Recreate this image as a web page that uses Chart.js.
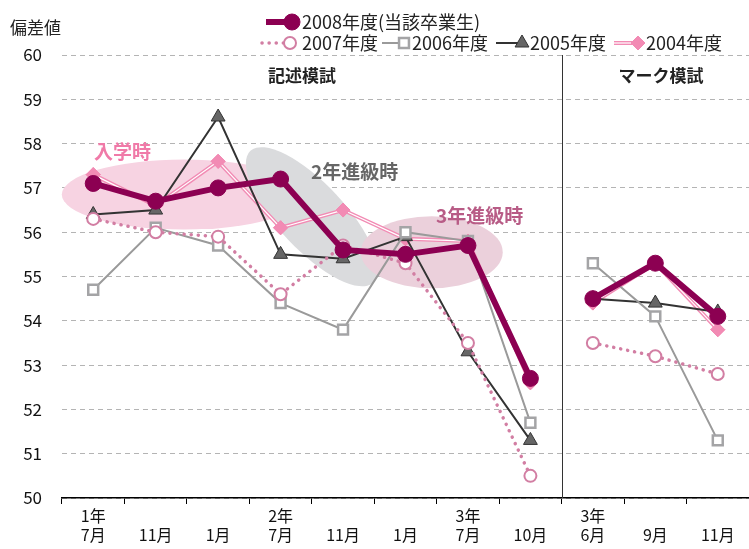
<!DOCTYPE html>
<html>
<head>
<meta charset="utf-8">
<script src="https://cdn.jsdelivr.net/npm/chart.js@4.4.1/dist/chart.umd.min.js"></script>
<style>
  html, body { margin: 0; background: #fff; }
  #wrap { width: 749px; height: 549px; }
</style>
</head>
<body>
<div id="wrap"><canvas id="chart"></canvas></div>
<script>
// x categories (two-line labels: year / month)
const categories = [['1年','7月'],['','11月'],['','1月'],['2年','7月'],['','11月'],['','1月'],['3年','7月'],['','10月'],['3年','6月'],['','9月'],['','11月']];
const seriesNames = ['2008年度(当該卒業生)', '2007年度', '2006年度', '2005年度', '2004年度'];
const y2008 = [57.1, 56.7, 57.0, 57.2, 55.6, 55.5, 55.7, 52.7, 54.5, 55.3, 54.1];
const y2007 = [56.3, 56.0, 55.9, 54.6, 55.7, 55.3, 53.5, 50.5, 53.5, 53.2, 52.8];
const y2006 = [54.7, 56.1, 55.7, 54.4, 53.8, 56.0, 55.8, 51.7, 55.3, 54.1, 51.3];
const y2005 = [56.4, 56.5, 58.6, 55.5, 55.4, 55.9, 53.3, 51.3, 54.5, 54.4, 54.2];
const y2004 = [57.3, 56.6, 57.6, 56.1, 56.5, 55.85, 55.8, 52.6, 54.4, 55.3, 53.8];
const yTicks = [50, 51, 52, 53, 54, 55, 56, 57, 58, 59, 60];
const lastWritten = 7; // last 記述模試 index, lines break after it

const FONT = '"Noto Sans CJK JP", "Noto Sans", sans-serif';

// break the line between the two exam types
const brk = { borderColor: ctx => ctx.p0DataIndex === lastWritten ? 'transparent' : undefined };

// background ellipses (data coords) + labels
const bubbles = [
  { cx: 1.45, cy: 56.85, rx: 122, ry: 35, rot: 0, color: '#f7d3e2' },
  { cx: 3.5, cy: 56.35, rx: 90, ry: 33, rot: 47, color: '#dadbdd' },
  { cx: 5.42, cy: 55.55, rx: 71, ry: 36, rot: 0, color: '#ebd0db' }
];

const decorations = {
  id: 'decorations',
  beforeDatasetsDraw(chart) {
    const { ctx, scales: { x, y } } = chart;
    ctx.save();
    bubbles.forEach(b => {
      ctx.beginPath();
      ctx.fillStyle = b.color;
      ctx.ellipse(x.getPixelForValue(b.cx), y.getPixelForValue(b.cy), b.rx, b.ry, b.rot * Math.PI / 180, 0, Math.PI * 2);
      ctx.fill();
    });
    // separator between 記述模試 and マーク模試
    const sx = (x.getPixelForValue(lastWritten) + x.getPixelForValue(lastWritten + 1)) / 2;
    ctx.strokeStyle = '#333';
    ctx.lineWidth = 1;
    ctx.beginPath();
    ctx.moveTo(Math.round(sx) + 0.5, chart.chartArea.top);
    ctx.lineTo(Math.round(sx) + 0.5, chart.chartArea.bottom);
    ctx.stroke();

    ctx.font = 'bold 19px ' + FONT;
    ctx.textBaseline = 'middle';
    ctx.textAlign = 'left';
    ctx.fillStyle = '#f07aa8';
    ctx.fillText('入学時', 94, 152);
    ctx.fillStyle = '#666';
    ctx.fillText('2年進級時', 311, 172);
    ctx.fillStyle = '#b85c86';
    ctx.fillText('3年進級時', 436, 216);
    ctx.font = 'bold 17px ' + FONT;
    ctx.fillStyle = '#222';
    ctx.textAlign = 'center';
    ctx.fillText('記述模試', 302, 76);
    ctx.fillText('マーク模試', 661, 76);
    ctx.restore();
  },
  afterDatasetDraw(chart, args) {
    // white centre stroke makes the 2004 line look doubled
    if (args.index !== 4) return;
    const { ctx } = chart;
    const pts = args.meta.data;
    ctx.save();
    ctx.strokeStyle = '#fff';
    ctx.lineWidth = 1.2;
    for (let i = 0; i < pts.length - 1; i++) {
      if (i === lastWritten) continue;
      ctx.beginPath();
      ctx.moveTo(pts[i].x, pts[i].y);
      ctx.lineTo(pts[i + 1].x, pts[i + 1].y);
      ctx.stroke();
    }
    // redraw diamonds over the white stroke
    pts.forEach(p => p.draw(ctx, chart.chartArea));
    ctx.restore();
  },
  afterDraw(chart) {
    const { ctx } = chart;
    ctx.save();
    ctx.font = '17px ' + FONT;
    ctx.fillStyle = '#222';
    ctx.textBaseline = 'middle';
    ctx.fillText('偏差値', 10, 28);

    // legend
    ctx.font = '18px ' + FONT;
    const spots = [
      { x0: 266, x1: 292, y: 22, tx: 302 },
      { x0: 262, x1: 290, y: 43, tx: 302 },
      { x0: 382, x1: 404, y: 43, tx: 412 },
      { x0: 496, x1: 522, y: 43, tx: 530 },
      { x0: 614, x1: 638, y: 43, tx: 646 }
    ];
    chart.data.datasets.forEach((ds, i) => {
      const s = spots[i];
      ctx.save();
      ctx.strokeStyle = ds.borderColor;
      ctx.lineWidth = ds.borderWidth;
      ctx.lineCap = ds.borderCapStyle || 'butt';
      ctx.setLineDash(ds.borderDash || []);
      ctx.beginPath();
      ctx.moveTo(s.x0, s.y);
      ctx.lineTo(s.x1, s.y);
      ctx.stroke();
      if (i === 4) {
        ctx.strokeStyle = '#fff';
        ctx.lineWidth = 1.2;
        ctx.beginPath();
        ctx.moveTo(s.x0, s.y);
        ctx.lineTo(s.x1, s.y);
        ctx.stroke();
      }
      ctx.setLineDash([]);
      ctx.fillStyle = ds.pointBackgroundColor;
      ctx.strokeStyle = ds.pointBorderColor;
      ctx.lineWidth = ds.pointBorderWidth;
      Chart.helpers.drawPoint(ctx, { pointStyle: ds.pointStyle, radius: ds.pointRadius, rotation: 0, borderWidth: ds.pointBorderWidth }, s.x1, s.y);
      ctx.restore();
      ctx.fillStyle = '#222';
      ctx.textAlign = 'left';
      ctx.fillText(ds.label, s.tx, s.y);
    });
    ctx.restore();
  }
};

new Chart(document.getElementById('chart'), {
  type: 'line',
  data: {
    labels: categories,
    datasets: [
      { label: seriesNames[0], data: y2008, borderColor: '#8c0052', borderWidth: 6, pointStyle: 'circle', pointRadius: 8,
        pointBackgroundColor: '#8c0052', pointBorderColor: '#8c0052', pointBorderWidth: 1, segment: brk },
      { label: seriesNames[1], data: y2007, borderColor: '#d27ea3', borderWidth: 3.5, borderDash: [0.1, 7], borderCapStyle: 'round',
        pointStyle: 'circle', pointRadius: 6, pointBackgroundColor: '#fff', pointBorderColor: '#d27ea3', pointBorderWidth: 2, segment: brk },
      { label: seriesNames[2], data: y2006, borderColor: '#9a9a9a', borderWidth: 2, pointStyle: 'rect', pointRadius: 7,
        pointBackgroundColor: '#fff', pointBorderColor: '#a4a4a6', pointBorderWidth: 2.5, segment: brk },
      { label: seriesNames[3], data: y2005, borderColor: '#333', borderWidth: 2, pointStyle: 'triangle', pointRadius: 8,
        pointBackgroundColor: '#666', pointBorderColor: '#333', pointBorderWidth: 1, segment: brk },
      { label: seriesNames[4], data: y2004, borderColor: '#f28bb4', borderWidth: 4, pointStyle: 'rectRot', pointRadius: 7,
        pointBackgroundColor: '#f28bb4', pointBorderColor: '#f28bb4', pointBorderWidth: 1, segment: brk }
    ]
  },
  options: {
    responsive: true,
    maintainAspectRatio: false,
    animation: false,
    layout: { autoPadding: false, padding: { top: 55, right: 0, left: 0, bottom: 0 } },
    plugins: { legend: { display: false }, tooltip: { enabled: false } },
    elements: { line: { tension: 0 } },
    scales: {
      x: {
        offset: true,
        grid: { offset: true, drawOnChartArea: false, tickLength: 6, tickColor: '#000' },
        border: { color: '#000', width: 1.5 },
        ticks: { color: '#111', font: { family: FONT, size: 16 }, maxRotation: 0, autoSkip: false, padding: 2 },
        afterFit: s => { s.height = 51; s.paddingLeft = 0; s.paddingRight = 0; }
      },
      y: {
        min: 50, max: 60,
        afterBuildTicks: s => { s.ticks = yTicks.map(v => ({ value: v })); },
        grid: { color: '#b4b4b4', drawTicks: false, lineWidth: 1 },
        border: { display: false, dash: [5, 4] },
        ticks: { color: '#111', font: { family: FONT, size: 17 }, padding: 20 },
        afterFit: s => { s.width = 62; s.paddingTop = 0; s.paddingBottom = 0; }
      }
    }
  },
  plugins: [decorations]
});
</script>
</body>
</html>
